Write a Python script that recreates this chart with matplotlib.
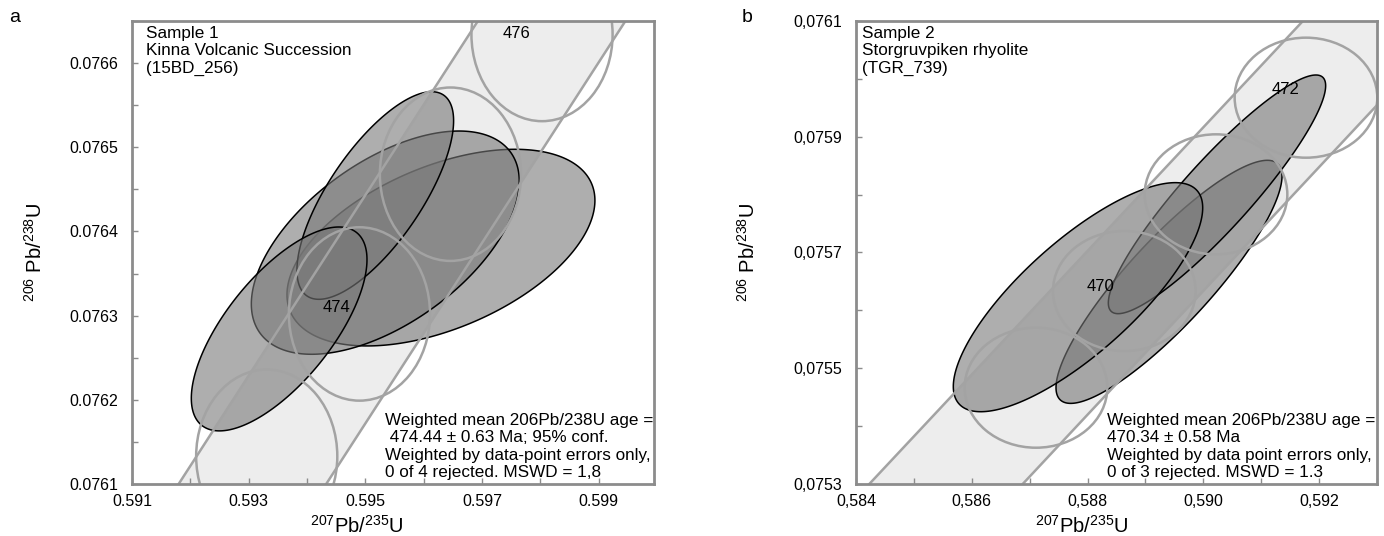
import numpy as np
import matplotlib
matplotlib.use('Agg')
import matplotlib.pyplot as plt
from matplotlib.patches import Ellipse, Polygon
from matplotlib.ticker import MultipleLocator, FixedLocator, FuncFormatter

plt.rcParams['font.family'] = ['Liberation Sans', 'DejaVu Sans']
plt.rcParams['mathtext.fontset'] = 'custom'
plt.rcParams['mathtext.rm'] = 'Liberation Sans'
plt.rcParams['mathtext.default'] = 'regular'

# ---- panel a : Sample 1 ----
a_xlim = (0.591, 0.59995)
a_ylim = (0.0761, 0.07665)
a_xticks = [0.591, 0.593, 0.595, 0.597, 0.599]
a_yticks = [0.0761, 0.0762, 0.0763, 0.0764, 0.0765, 0.0766]
# concordia band edges (207/235 at bottom and top of the plot)
a_band_y = [0.0761, 0.07665]
a_band_left = [0.5918, 0.59693]
a_band_right = [0.59433, 0.59946]
# age markers on concordia (Ma) and their error ellipses
a_marker_age = [473, 474, 475, 476]
a_marker_x = [0.59331, 0.59490, 0.59646, 0.59803]
a_marker_y = [0.076133, 0.076302, 0.076468, 0.076634]
a_marker_rx = 0.00121
a_marker_ry = 0.000103
a_label_age = ['474', '476']
a_label_x = [0.59451, 0.5976]
a_label_y = [0.07631, 0.076635]
# data-point ellipses: centre, half errors, rho (drawing order)
a_ell_x = [0.596297, 0.595343, 0.595171, 0.593523]
a_ell_y = [0.0763808, 0.0763867, 0.0764427, 0.0762842]
a_ell_sx = [0.00264, 0.002297, 0.001343, 0.001506]
a_ell_sy = [0.0001168, 0.0001326, 0.0001233, 0.0001211]
a_ell_rho = [0.48, 0.55, 0.72, 0.68]
a_title = 'Sample 1\nKinna Volcanic Succession\n(15BD_256)'
a_result = ('Weighted mean 206Pb/238U age =\n 474.44 \u00b1 0.63 Ma; 95% conf.\n'
            'Weighted by data-point errors only,\n0 of 4 rejected. MSWD = 1,8')

# ---- panel b : Sample 2 ----
b_xlim = (0.584, 0.593)
b_ylim = (0.0753, 0.0761)
b_xticks = [0.584, 0.586, 0.588, 0.590, 0.592]
b_yticks = [0.0753, 0.0755, 0.0757, 0.0759, 0.0761]
b_band_y = [0.0753, 0.0761]
b_band_left = [0.58423, 0.59172]
b_band_right = [0.58688, 0.59436]
b_marker_age = [469, 470, 471, 472]
b_marker_x = [0.587109, 0.588635, 0.590219, 0.591773]
b_marker_y = [0.0754664, 0.0756334, 0.0758005, 0.0759675]
b_marker_rx = 0.001232
b_marker_ry = 0.0001037
b_label_age = ['470', '472']
b_label_x = [0.588232, 0.591428]
b_label_y = [0.075642, 0.075982]
b_ell_x = [0.589407, 0.590236, 0.587835]
b_ell_y = [0.0756493, 0.0758005, 0.0756228]
b_ell_sx = [0.001952, 0.001877, 0.002154]
b_ell_sy = [0.00021, 0.0002062, 0.0001979]
b_ell_rho = [0.87, 0.91, 0.78]
b_title = 'Sample 2\nStorgruvpiken rhyolite\n(TGR_739)'
b_result = ('Weighted mean 206Pb/238U age =\n470.34 \u00b1 0.58 Ma\n'
            'Weighted by data point errors only,\n0 of 3 rejected. MSWD = 1.3')

GREY_LINE = '#a3a3a3'
SPINE = '#8c8c8c'


def ellipse_xy(cx, cy, sx, sy, rho):
    t = np.linspace(0, 2 * np.pi, 300)
    x = cx + sx * np.cos(t)
    y = cy + sy * (rho * np.cos(t) + np.sqrt(1 - rho ** 2) * np.sin(t))
    return np.column_stack([x, y])


def draw_panel(ax, xlim, ylim, xticks, yticks, xminor, yminor, comma,
               band_y, band_left, band_right,
               mk_x, mk_y, mk_rx, mk_ry, lab, lab_x, lab_y,
               ex, ey, esx, esy, erho, title, title_x, result, result_x,
               ylab_x, xlab_x):
    # concordia band
    band = Polygon(list(zip(band_left, band_y)) + list(zip(band_right[::-1], band_y[::-1])),
                   closed=True, facecolor='#ededed', edgecolor='none', zorder=1)
    ax.add_patch(band)

    # data ellipses (semi-transparent fill, black rim)
    for i in range(len(ex)):
        pts = ellipse_xy(ex[i], ey[i], esx[i], esy[i], erho[i])
        ax.add_patch(Polygon(pts, closed=True, facecolor='#787878', alpha=0.6,
                             edgecolor='none', zorder=3 + i))
        ax.add_patch(Polygon(pts, closed=True, facecolor='none', edgecolor='black',
                             lw=1.1, zorder=3 + i))

    # band edges and age marker ellipses
    ax.plot(band_left, band_y, color=GREY_LINE, lw=1.8, zorder=20)
    ax.plot(band_right, band_y, color=GREY_LINE, lw=1.8, zorder=20)
    for i in range(len(mk_x)):
        ax.add_patch(Ellipse((mk_x[i], mk_y[i]), 2 * mk_rx, 2 * mk_ry, fill=False,
                             edgecolor=GREY_LINE, lw=1.8, zorder=20))
    for i in range(len(lab)):
        ax.text(lab_x[i], lab_y[i], lab[i], fontsize=12, ha='center', va='center', zorder=30)

    ax.set_xlim(xlim)
    ax.set_ylim(ylim)
    ax.xaxis.set_major_locator(FixedLocator(xticks))
    ax.yaxis.set_major_locator(FixedLocator(yticks))
    ax.xaxis.set_minor_locator(MultipleLocator(xminor))
    ax.yaxis.set_minor_locator(MultipleLocator(yminor))

    def fx(v, pos):
        s = '%.3f' % v
        return s.replace('.', ',') if comma else s

    def fy(v, pos):
        s = '%.4f' % v
        return s.replace('.', ',') if comma else s

    ax.xaxis.set_major_formatter(FuncFormatter(fx))
    ax.yaxis.set_major_formatter(FuncFormatter(fy))
    ax.tick_params(which='both', direction='in', length=4, width=1, color=SPINE,
                   labelsize=11.5, top=False, right=False)
    ax.tick_params(axis='y', which='both', pad=10)
    ax.tick_params(axis='x', which='both', pad=7)
    for s in ax.spines.values():
        s.set_color(SPINE)
        s.set_linewidth(2)
        s.set_zorder(40)

    ax.text(title_x, 0.99, title, transform=ax.transAxes, fontsize=12.3,
            ha='left', va='top', zorder=50)
    ax.text(result_x, 0.008, result, transform=ax.transAxes, fontsize=12.3,
            ha='left', va='bottom', zorder=50)

    ax.set_ylabel(r'$^{206}$ Pb/$^{238}$U', fontsize=14.5)
    ax.set_xlabel(r'$^{207}$Pb/$^{235}$U', fontsize=14.5)
    ax.yaxis.set_label_coords(ylab_x, 0.5)
    ax.xaxis.set_label_coords(xlab_x, -0.066)


fig = plt.figure(figsize=(13.84, 5.36), dpi=100)
ax1 = fig.add_axes([132 / 1384, 1 - 484 / 536, 522 / 1384, 463 / 536])
ax2 = fig.add_axes([856 / 1384, 1 - 484 / 536, 521 / 1384, 463 / 536])

draw_panel(ax1, a_xlim, a_ylim, a_xticks, a_yticks, 0.001, 0.00005, False,
           a_band_y, a_band_left, a_band_right,
           a_marker_x, a_marker_y, a_marker_rx, a_marker_ry,
           a_label_age, a_label_x, a_label_y,
           a_ell_x, a_ell_y, a_ell_sx, a_ell_sy, a_ell_rho,
           a_title, 0.027, a_result, 0.485, -0.165, 0.43)

draw_panel(ax2, b_xlim, b_ylim, b_xticks, b_yticks, 0.001, 0.0001, True,
           b_band_y, b_band_left, b_band_right,
           b_marker_x, b_marker_y, b_marker_rx, b_marker_ry,
           b_label_age, b_label_x, b_label_y,
           b_ell_x, b_ell_y, b_ell_sx, b_ell_sy, b_ell_rho,
           b_title, 0.012, b_result, 0.481, -0.186, 0.434)

fig.text(15 / 1384, 1 - 18 / 536, 'a', fontsize=14, ha='center', va='center')
fig.text(747 / 1384, 1 - 17 / 536, 'b', fontsize=14, ha='center', va='center')

fig.savefig('out.png', dpi=100)
